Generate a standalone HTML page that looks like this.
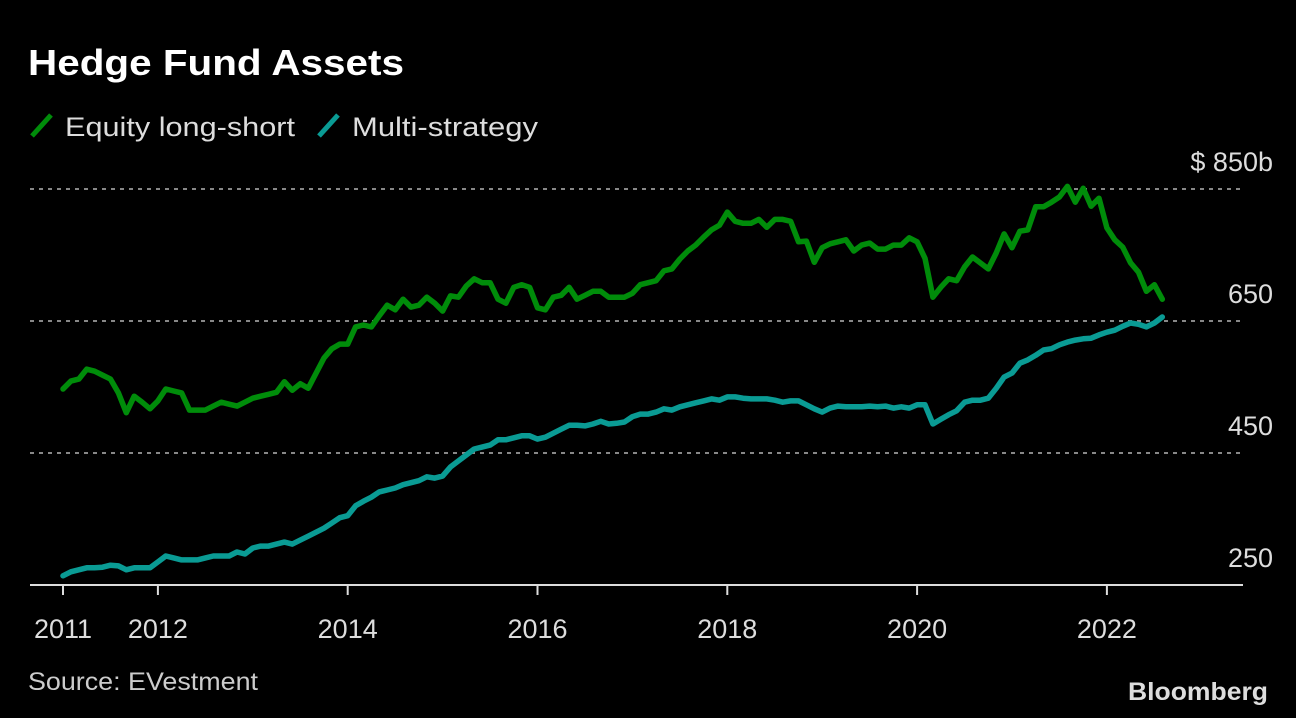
<!DOCTYPE html>
<html><head><meta charset="utf-8"><style>
html,body{margin:0;padding:0;background:#000;}
svg{display:block;font-family:"Liberation Sans",sans-serif;}
</style></head><body>
<svg id="chart" width="1296" height="718" viewBox="0 0 1296 718" xmlns="http://www.w3.org/2000/svg">
<rect width="1296" height="718" fill="#000"/>
<text x="28" y="75" fill="#fff" font-size="36" font-weight="bold" textLength="376" lengthAdjust="spacingAndGlyphs">Hedge Fund Assets</text>
<g>
<g>
<line x1="32" y1="136" x2="51" y2="115" stroke="#008c0a" stroke-width="5"/>
<text x="65" y="136" fill="#ddd" font-size="27" textLength="230" lengthAdjust="spacingAndGlyphs">Equity long-short</text>
</g>
<g>
<line x1="319" y1="136" x2="338" y2="115" stroke="#0a9b94" stroke-width="5"/>
<text x="352" y="136" fill="#ddd" font-size="27" textLength="186" lengthAdjust="spacingAndGlyphs">Multi-strategy</text>
</g>
</g>
<g id="grid"></g>
<g id="ylabels"></g>
<g id="xaxis"></g>
<g id="series"></g>
<text x="28" y="690" fill="#ccc" font-size="25" textLength="230" lengthAdjust="spacingAndGlyphs">Source: EVestment</text>
<text x="1268" y="700" fill="#ddd" font-size="25" font-weight="bold" text-anchor="end" textLength="140" lengthAdjust="spacingAndGlyphs">Bloomberg</text>
</svg>
<script>
const yTicks = [250, 450, 650, 850];
const yTickLabels = ["250", "450", "650", "$ 850b"];
const xTickYears = [2011, 2012, 2014, 2016, 2018, 2020, 2022];
const startYear = 2011;
const equityLongShort = [
547,559,562,577,574,568,562,541,511,536,527,517,
529,547,544,541,515,515,515,521,527,524,521,527,
533,536,539,542,558,545,555,548,571,594,608,615,
615,641,644,641,658,674,667,683,671,674,686,677,
665,688,686,703,714,708,708,683,677,701,705,701,
670,667,686,689,701,683,689,695,695,686,686,686,
692,705,708,711,726,729,744,756,765,777,788,795,
815,801,798,798,804,792,804,804,801,770,771,739,
761,767,770,773,756,765,768,759,759,765,765,776,
770,745,686,701,714,711,732,747,738,729,753,782,
761,786,788,823,823,830,838,854,830,851,824,836,
791,773,762,738,724,695,705,683];
const multiStrategy = [
264,270,273,276,276,277,280,279,273,276,276,276,
285,294,291,288,288,288,291,294,294,294,300,297,
306,309,309,312,315,312,318,324,330,336,344,352,
355,370,377,383,391,394,397,402,405,408,414,412,
415,429,438,447,456,459,462,470,470,473,476,476,
471,474,480,486,492,492,491,494,498,494,495,497,
505,509,509,512,517,515,520,523,526,529,532,530,
535,535,533,532,532,532,530,527,529,529,523,517,
512,518,521,520,520,520,521,520,521,518,520,518,
523,523,494,501,508,514,527,530,530,533,548,565,
571,586,591,598,606,608,614,618,621,623,624,629,
633,636,642,647,645,641,647,656];

const NS = "http://www.w3.org/2000/svg";
const yScale = v => 585 - (v - 250) * 0.66;
const xScale = yr => 63 + (yr - 2011) * 94.9;
const xMonth = i => xScale(startYear + i / 12);

function mk(tag, attrs, parent) {
  const el = document.createElementNS(NS, tag);
  for (const k in attrs) el.setAttribute(k, attrs[k]);
  parent.appendChild(el);
  return el;
}
const grid = document.getElementById('grid');
const ylab = document.getElementById('ylabels');
yTicks.forEach((v, i) => {
  if (v !== 250) {
    const l = mk('line', {x1: 30, x2: 1245, y1: yScale(v), y2: yScale(v), stroke: '#888', 'stroke-width': 2, 'stroke-dasharray': '4 5'}, grid);
    
    
  }
  const t = mk('text', {x: 1273, y: yScale(v) - 18, fill: '#ddd', 'font-size': 27, 'text-anchor': 'end'}, ylab);
  t.textContent = yTickLabels[i];
  
  
});
const xa = document.getElementById('xaxis');
const axl = mk('line', {x1: 30, x2: 1243, y1: 585, y2: 585, stroke: '#ddd', 'stroke-width': 2}, xa);


xTickYears.forEach(yr => {
  const x = xScale(yr);
  const tk = mk('line', {x1: x, x2: x, y1: 585, y2: 595, stroke: '#ddd', 'stroke-width': 2}, xa);
  
  
  const t = mk('text', {x: x, y: 638, fill: '#ddd', 'font-size': 27, 'text-anchor': 'middle'}, xa);
  t.textContent = String(yr);
  
  
});
const ser = document.getElementById('series');
function drawLine(data, color, name) {
  const pts = data.map((v, i) => xMonth(i).toFixed(1) + ',' + yScale(v).toFixed(1)).join(' ');
  const p = mk('polyline', {points: pts, fill: 'none', stroke: color, 'stroke-width': 5.5, 'stroke-linejoin': 'round', 'stroke-linecap': 'round'}, ser);
  
  
}
drawLine(multiStrategy, '#0a9b94', 'multi-strategy-line');
drawLine(equityLongShort, '#008c0a', 'equity-long-short-line');
</script>
</body></html>
